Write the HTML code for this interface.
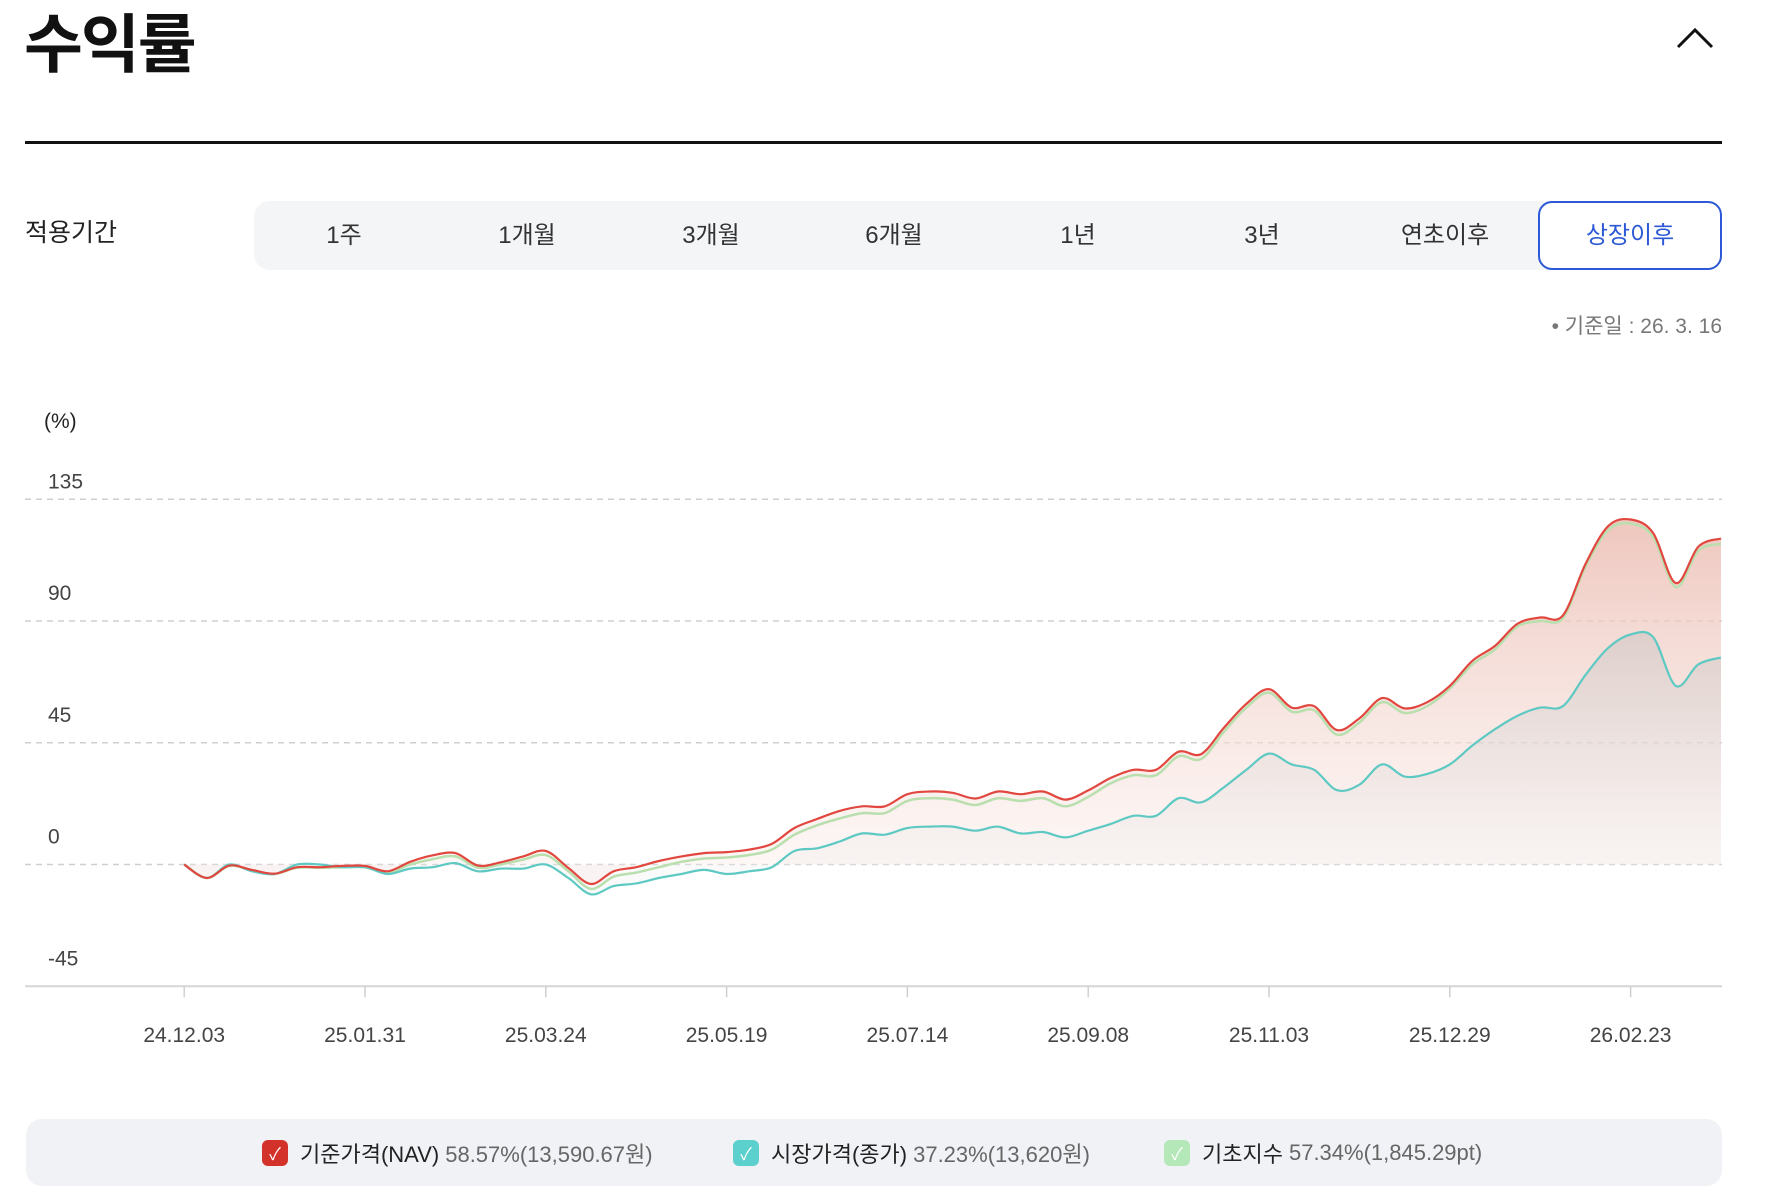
<!DOCTYPE html>
<html lang="ko"><head><meta charset="utf-8"><title>수익률</title>
<style>
*{margin:0;padding:0;box-sizing:border-box}
body{width:1786px;height:1186px;background:#fff;position:relative;overflow:hidden;font-family:"Liberation Sans","Noto Sans CJK KR",sans-serif;color:#111}
.abs{position:absolute}
#title{left:24px;top:0px;font-size:64px;font-weight:700;letter-spacing:-2px;line-height:80px;font-family:"Noto Sans CJK KR","Liberation Sans",sans-serif}
#chev{left:1676px;top:26px;width:38px;height:24px}
#divider{left:25px;top:141px;width:1697px;height:3px;background:#111}
#plabel{left:25px;top:216px;font-size:25px;line-height:34px;color:#222}
#tabs{left:254px;top:201px;width:1468px;height:69px;background:#f4f5f7;border-radius:16px}
.tab{position:absolute;top:0;height:69px;line-height:69px;font-size:24px;color:#333;text-align:center;width:150px;margin-left:-75px}
#sel{left:1538px;top:201px;width:184px;height:69px;border:2px solid #2c5ad6;border-radius:14px;background:#fff;color:#2c5ad6;font-size:24px;text-align:center;line-height:65px}
#basedate{right:64px;top:310px;font-size:21px;color:#777}
#legend{left:26px;top:1119px;width:1696px;height:67px;background:#f0f2f6;border-radius:16px}
.li{position:absolute;top:0;height:67px;display:flex;align-items:center;font-size:22px;color:#222;white-space:nowrap}
.cb{width:26px;height:26px;border-radius:6px;margin-right:12px;display:flex;align-items:center;justify-content:center;color:#fff;font-size:17px}
.li span.v{color:#666;margin-left:6px}
</style></head><body>
<div id="title" class="abs">수익률</div>
<svg id="chev" class="abs" viewBox="0 0 38 24"><polyline points="2,21 19,4 36,21" fill="none" stroke="#111" stroke-width="3"/></svg>
<div id="divider" class="abs"></div>
<div id="plabel" class="abs">적용기간</div>
<div id="tabs" class="abs">
<div class="tab" style="left:90px">1주</div>
<div class="tab" style="left:273px">1개월</div>
<div class="tab" style="left:457px">3개월</div>
<div class="tab" style="left:640px">6개월</div>
<div class="tab" style="left:824px">1년</div>
<div class="tab" style="left:1008px">3년</div>
<div class="tab" style="left:1191px">연초이후</div>
</div>
<div id="sel" class="abs">상장이후</div>
<div id="basedate" class="abs">• 기준일 : 26. 3. 16</div>

<svg class="abs" style="left:0;top:380px" width="1786" height="700" viewBox="0 380 1786 700" id="chart">
<defs>
<linearGradient id="gr" gradientUnits="userSpaceOnUse" x1="0" y1="499" x2="0" y2="865">
<stop offset="0" stop-color="#eab8ad" stop-opacity="0.85"/><stop offset="1" stop-color="#fbefec" stop-opacity="0.5"/></linearGradient>
<linearGradient id="gg" gradientUnits="userSpaceOnUse" x1="0" y1="600" x2="0" y2="865">
<stop offset="0" stop-color="#b8b8b8" stop-opacity="0.45"/><stop offset="1" stop-color="#e8e8e8" stop-opacity="0.2"/></linearGradient>
</defs>
<g id="grid"></g><g id="areas"></g><g id="lines"></g><g id="axis"></g>
</svg>

<div id="legend" class="abs">
<div class="li" style="left:236px"><div class="cb" style="background:#d3322b">✓</div>기준가격(NAV)<span class="v">58.57%(13,590.67원)</span></div>
<div class="li" style="left:707px"><div class="cb" style="background:#5cd0cc">✓</div>시장가격(종가)<span class="v">37.23%(13,620원)</span></div>
<div class="li" style="left:1138px"><div class="cb" style="background:#b4e8b8">✓</div>기초지수<span class="v">57.34%(1,845.29pt)</span></div>
</div>

<script>
const yTicks=[135,90,45,0,-45];
const xTickLabels=["24.12.03","25.01.31","25.03.24","25.05.19","25.07.14","25.09.08","25.11.03","25.12.29","26.02.23"];
const xTickWeeks=[0,8,16,24,32,40,48,56,64];
const weeks=[0,1,2,3,4,5,6,7,8,9,10,11,12,13,14,15,16,17,18,19,20,21,22,23,24,25,26,27,28,29,30,31,32,33,34,35,36,37,38,39,40,41,42,43,44,45,46,47,48,49,50,51,52,53,54,55,56,57,58,59,60,61,62,63,64,65,66,67,68];
const navValues=[0,-5,-0.4,-2,-3.4,-1,-1,-0.5,-0.5,-2.5,1,3.4,4.2,-0.4,0.8,3,5,-1.3,-7.2,-2.5,-1,1.3,3,4.2,4.6,5.5,7.6,13.5,16.8,19.8,21.5,21.5,26,27,26.5,24.4,27,26,27,24,27.4,32,35,35,41.7,40.8,50.5,59.4,64.8,58,58.5,49.7,54,61.5,57.7,60,66,75.3,80.8,89,91.3,92,111,125,127.5,122.5,104,117.5,120.5];
const marketValues=[0,-5,0,-2.5,-3.5,0,0,-1,-1,-3.5,-1.5,-1,0.5,-2.5,-1.5,-1.5,0,-5,-11,-8,-7,-5,-3.5,-2,-3.5,-2.5,-1,5,6,8.5,11.5,11,13.5,14,14,12.5,14,11.5,12,10,12.5,15,18,18,24.5,23,28.5,35,41,37,35,27.5,29.5,37,32.5,33.5,37,44,50,55,58,58.5,70,80,85,84,66,74,76.5];
const indexValues=[0,-5,-0.5,-2.2,-3.5,-1.2,-1.2,-1,-1,-3,0,2,3,-1.2,0,1.8,3.5,-2.5,-9,-4.5,-3,-1,1,2.2,2.6,3.5,5.5,11,14.5,17,19,19,23.5,24.5,24,22,24.5,23.5,24.5,21.5,25,30,33,33,40,39,49,58,63.5,56.5,57,48,52.5,60,56,58.5,65,74,79.5,88,90,91,110,123.5,126,121,102.5,116,118.5];

const X0=184.2, XW=22.6, Y0=864.5, YU=121.75/45, XL=25, XR=1722;
const xs=w=>X0+w*XW, ys=v=>Y0-v*YU;
const NS="http://www.w3.org/2000/svg";
function mk(t,a,p){const e=document.createElementNS(NS,t);for(const k in a)e.setAttribute(k,a[k]);p.appendChild(e);return e;}
function smooth(pts){let d="M"+pts[0][0]+","+pts[0][1];for(let i=0;i<pts.length-1;i++){const p0=pts[Math.max(0,i-1)],p1=pts[i],p2=pts[i+1],p3=pts[Math.min(pts.length-1,i+2)];const c1x=p1[0]+(p2[0]-p0[0])/6,c1y=p1[1]+(p2[1]-p0[1])/6,c2x=p2[0]-(p3[0]-p1[0])/6,c2y=p2[1]-(p3[1]-p1[1])/6;d+=" C"+c1x.toFixed(1)+","+c1y.toFixed(1)+" "+c2x.toFixed(1)+","+c2y.toFixed(1)+" "+p2[0].toFixed(1)+","+p2[1].toFixed(1);}return d;}
const grid=document.getElementById('grid'),axis=document.getElementById('axis'),areas=document.getElementById('areas'),lines=document.getElementById('lines');
const u=mk('text',{x:44,y:428,'font-size':21,fill:'#222'},axis);u.textContent="(%)";


yTicks.forEach((v,i)=>{
  if(v>-45){const l=mk('line',{x1:XL,x2:XR,y1:ys(v),y2:ys(v),stroke:'#cfcfcf','stroke-width':1.5,'stroke-dasharray':'6 5'},grid);
  
  }
  const off=i===0?11:21;
  const t=mk('text',{x:48,y:ys(v)-off,'font-size':21,fill:'#444'},axis);t.textContent=v;
  
  
});
const ax=mk('line',{x1:XL,x2:XR,y1:ys(-45),y2:ys(-45),stroke:'#d6d6d6','stroke-width':2},axis);


xTickWeeks.forEach((w,i)=>{
  const tk=mk('line',{x1:xs(w),x2:xs(w),y1:ys(-45),y2:ys(-45)+11,stroke:'#d0d0d0','stroke-width':1.5},axis);
  
  
  const t=mk('text',{x:xs(w),y:1042,'font-size':21,fill:'#444','text-anchor':'middle'},axis);t.textContent=xTickLabels[i];
  
  
});
function pts(vals){return weeks.map((w,i)=>[xs(w),ys(vals[i])]);}
function area(vals,fill,name){const p=pts(vals);const d=smooth(p)+" L"+xs(weeks[weeks.length-1])+","+Y0+" L"+xs(weeks[0])+","+Y0+" Z";const e=mk('path',{d:d,fill:fill},areas);

}
area(navValues,'url(#gr)','nav-area');
area(marketValues,'url(#gg)','market-area');
function line(vals,col,w,name){const e=mk('path',{d:smooth(pts(vals)),fill:'none',stroke:col,'stroke-width':w,'stroke-linejoin':'round'},lines);

}
line(indexValues,'#b9dfae',2.5,'base-index-line');
line(marketValues,'#5ec9c3',2.2,'market-price-line');
line(navValues,'#e2473f',2.2,'nav-line');
</script>
</body></html>
